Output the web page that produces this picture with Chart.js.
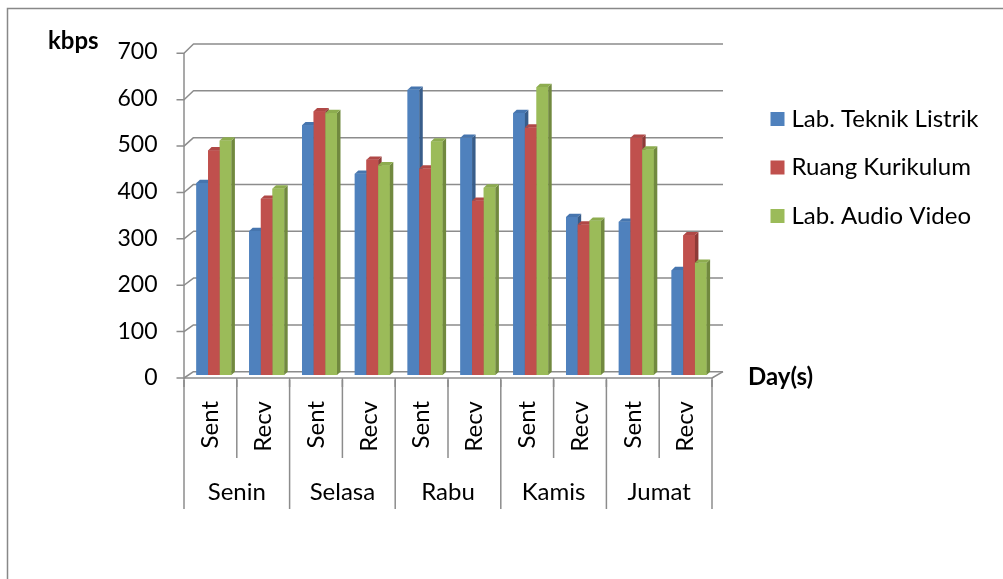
<!DOCTYPE html>
<html>
<head>
<meta charset="utf-8">
<script src="https://cdn.jsdelivr.net/npm/chart.js@4.4.1/dist/chart.umd.min.js"></script>
<style>
  html, body { margin: 0; padding: 0; background: #ffffff; }
  #wrap { width: 1003px; height: 579px; }
</style>
</head>
<body>
<div id="wrap"><canvas id="chart" width="1003" height="579"></canvas></div>
<script>
// Throughput per day, split into sent and received traffic (kbps)
const days = ['Senin', 'Selasa', 'Rabu', 'Kamis', 'Jumat'];
const directions = ['Sent', 'Recv'];
const yTicks = [0, 100, 200, 300, 400, 500, 600, 700];

const seriesNames = ['Lab. Teknik Listrik', 'Ruang Kurikulum', 'Lab. Audio Video'];
const labTeknikListrik = [412, 309, 536, 432, 612, 509, 562, 339, 329, 225];
const ruangKurikulum   = [482, 378, 566, 462, 443, 374, 531, 323, 509, 300];
const labAudioVideo    = [503, 400, 562, 450, 501, 402, 618, 331, 484, 241];

const yAxisTitle = 'kbps';
const xAxisTitle = 'Day(s)';

// face colours: front, side, top
const palette = [
  { front: '#4F81BD', side: '#385D8A', top: '#4675AE' },
  { front: '#C0504D', side: '#8E3A37', top: '#B04846' },
  { front: '#9BBB59', side: '#71893F', top: '#8DAC4F' }
];

const FONT = 'Lato, "Open Sans", "Liberation Sans", sans-serif';
const TEXT_SIZE = 24;
const TICK_SIZE = 23;
const GRID = '#8C8C8C';

const labels = [];
days.forEach(d => directions.forEach(dir => labels.push(d + ' ' + dir)));

const DEPTH_X = 3.5, DEPTH_Y = 3.3;

const wallPlugin = {
  id: 'wall3d',
  beforeDraw(chart) {
    const ctx = chart.ctx;
    ctx.save();
    ctx.fillStyle = '#ffffff';
    ctx.fillRect(0, 0, chart.width, chart.height);
    ctx.strokeStyle = '#888888';
    ctx.lineWidth = 1.5;
    ctx.strokeRect(7.5, 8.5, 1010, 600);
    ctx.restore();
  },
  beforeDatasetsDraw(chart) {
    const ctx = chart.ctx;
    const y = chart.scales.y, x = chart.scales.x;
    const area = chart.chartArea;
    const frontLeft = area.left - DEPTH_X;
    const backLeft = area.left + 6;
    const frontRight = area.right - DEPTH_X;
    const backRight = area.right + 7.5;
    const y0 = y.getPixelForValue(0), yMax = y.getPixelForValue(700);
    const frontY = v => (y0 + 3) + ((yMax + 4.5) - (y0 + 3)) * v / 700;
    const backY = v => (y0 - 3.3) + ((yMax - 4.8) - (y0 - 3.3)) * v / 700;

    ctx.save();
    ctx.strokeStyle = GRID;
    ctx.lineWidth = 1.5;
    ctx.lineJoin = 'round';
    // back wall gridlines with the left wall step
    yTicks.forEach(v => {
      ctx.beginPath();
      ctx.moveTo(frontLeft - 7.5, frontY(v));
      ctx.lineTo(frontLeft, frontY(v));
      ctx.lineTo(backLeft, backY(v));
      ctx.lineTo(backRight, backY(v));
      ctx.stroke();
    });
    // front vertical axis
    ctx.beginPath();
    ctx.moveTo(frontLeft, frontY(700));
    ctx.lineTo(frontLeft, frontY(0) + 1);
    ctx.stroke();
    // floor front edge and right slant
    ctx.beginPath();
    ctx.moveTo(frontLeft, frontY(0));
    ctx.lineTo(frontRight, frontY(0));
    ctx.lineTo(backRight, backY(0));
    ctx.stroke();
    // floor tick marks
    const n = labels.length;
    const catW = (x.right - x.left) / n;
    for (let i = 0; i <= n; i++) {
      const tx = frontLeft + catW * i;
      ctx.beginPath();
      ctx.moveTo(tx, frontY(0));
      ctx.lineTo(tx, frontY(0) + 9);
      ctx.stroke();
    }

    // two-level category label table
    const tTop = frontY(0) + 2;
    for (let i = 0; i <= n; i++) {
      const lx = frontLeft + catW * i;
      ctx.beginPath();
      ctx.moveTo(lx, tTop);
      ctx.lineTo(lx, i % 2 === 0 ? 509 : 458);
      ctx.stroke();
    }
    ctx.fillStyle = '#000000';
    ctx.font = TEXT_SIZE + 'px ' + FONT;
    for (let i = 0; i < n; i++) {
      const cx = frontLeft + catW * (i + 0.5);
      ctx.save();
      ctx.translate(cx, 401);
      ctx.rotate(-Math.PI / 2);
      ctx.textAlign = 'right';
      ctx.textBaseline = 'middle';
      ctx.fillText(directions[i % 2], 0, 0);
      ctx.restore();
    }
    ctx.textAlign = 'center';
    ctx.textBaseline = 'middle';
    days.forEach((d, k) => {
      const cx = frontLeft + catW * (2 * k + 1);
      ctx.fillText(d, cx, 492);
    });

    // axis titles
    ctx.font = 'bold ' + TEXT_SIZE + 'px ' + FONT;
    ctx.textAlign = 'left';
    ctx.fillText(yAxisTitle, 48, 41);
    ctx.fillText(xAxisTitle, 748, 377);

    // legend
    ctx.font = TEXT_SIZE + 'px ' + FONT;
    chart.data.datasets.forEach((ds, i) => {
      const ly = 119 + i * 48.5;
      ctx.fillStyle = palette[i].front;
      ctx.fillRect(770.5, ly - 7, 14, 14);
      ctx.fillStyle = '#000000';
      ctx.textAlign = 'left';
      ctx.fillText(ds.label, 791.5, ly);
    });
    ctx.restore();
  },
  afterDatasetsDraw(chart) {
    const ctx = chart.ctx;
    const metas = chart.data.datasets.map((_, i) => chart.getDatasetMeta(i));
    ctx.save();
    for (let j = 0; j < labels.length; j++) {
      metas.forEach((meta, i) => {
        const bar = meta.data[j];
        const p = bar.getProps(['x', 'y', 'base', 'width'], true);
        const l = p.x - p.width / 2, r = p.x + p.width / 2;
        const c = palette[i];
        // front face
        ctx.fillStyle = c.front;
        ctx.fillRect(l, p.y, r - l, p.base - p.y);
        // side face
        ctx.fillStyle = c.side;
        ctx.beginPath();
        ctx.moveTo(r, p.y);
        ctx.lineTo(r + DEPTH_X, p.y - DEPTH_Y);
        ctx.lineTo(r + DEPTH_X, p.base - DEPTH_Y);
        ctx.lineTo(r, p.base);
        ctx.closePath();
        ctx.fill();
        // top face
        ctx.fillStyle = c.top;
        ctx.beginPath();
        ctx.moveTo(l, p.y);
        ctx.lineTo(l + DEPTH_X, p.y - DEPTH_Y);
        ctx.lineTo(r + DEPTH_X, p.y - DEPTH_Y);
        ctx.lineTo(r, p.y);
        ctx.closePath();
        ctx.fill();
      });
    }
    ctx.restore();
  }
};

const seriesValues = [labTeknikListrik, ruangKurikulum, labAudioVideo];

new Chart(document.getElementById('chart'), {
  type: 'bar',
  data: {
    labels: labels,
    datasets: seriesValues.map((vals, i) => ({
      label: seriesNames[i],
      data: vals,
      backgroundColor: palette[i].front,
      borderWidth: 0,
      categoryPercentage: 0.663,
      barPercentage: 1.0
    }))
  },
  options: {
    responsive: false,
    animation: false,
    events: [],
    layout: { padding: { top: 48.8, bottom: 204, left: 0, right: 287.5 } },
    plugins: { legend: { display: false }, tooltip: { enabled: false } },
    scales: {
      x: { display: false, offset: true },
      y: {
        min: 0,
        max: 700,
        afterFit(scale) { scale.width = 187.5; },
        afterBuildTicks(scale) { scale.ticks = yTicks.map(v => ({ value: v })); },
        grid: { display: false, drawTicks: false },
        border: { display: false },
        ticks: {
          padding: 30,
          labelOffset: 3,
          color: '#000000',
          font: { family: FONT, size: TICK_SIZE }
        }
      }
    }
  },
  plugins: [wallPlugin]
});
</script>
</body>
</html>
